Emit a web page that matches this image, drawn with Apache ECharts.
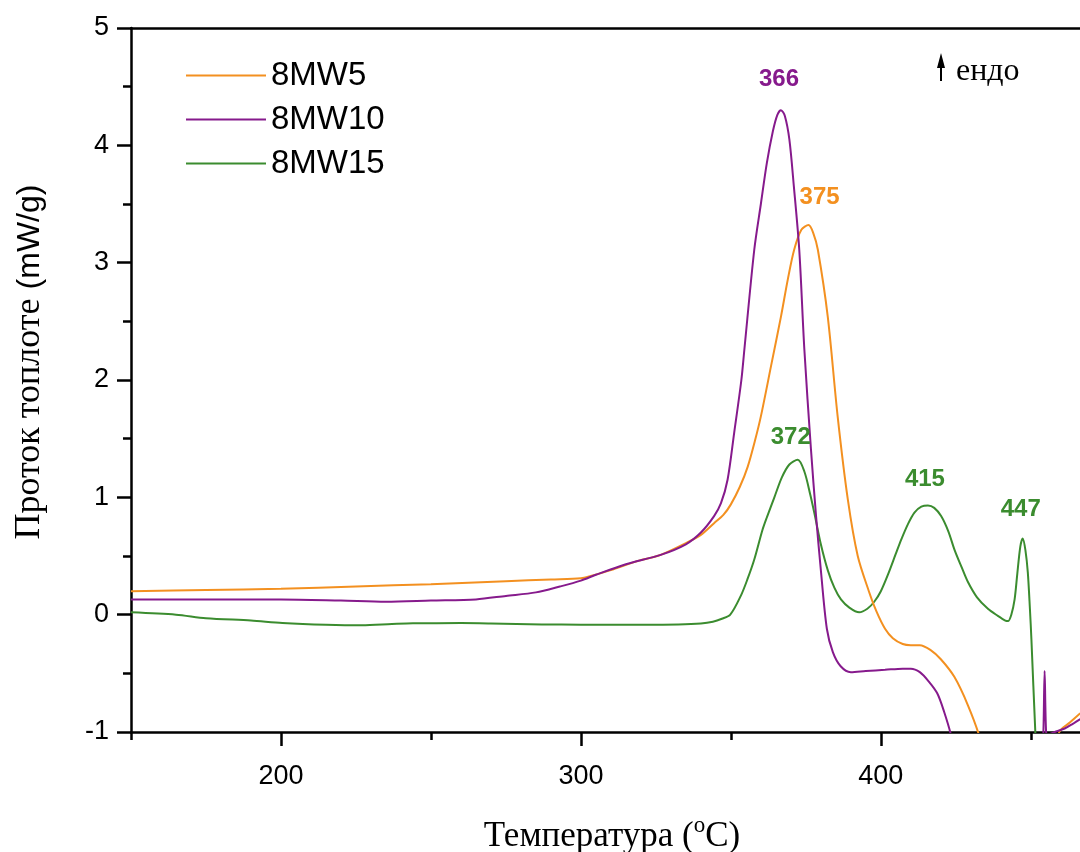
<!DOCTYPE html>
<html>
<head>
<meta charset="utf-8">
<script src="https://cdn.jsdelivr.net/npm/echarts@6/dist/echarts.min.js"></script>
<style>html,body{margin:0;padding:0;background:#fff;}#c{width:1080px;height:852px;}</style>
</head>
<body>
<div id="c"></div>
<script>
// ---- data ----
const seriesNames = ['8MW5', '8MW10', '8MW15'];

const t5 = [150,175,200,225,250,275,290,300,303.3,310,318,326.6,335,340,344.4,347.5,350,353,355.6,358,360,363.4,366.7,369,371.1,373.5,375.9,377.5,379,382.3,385.6,389,392.3,396,398.5,401.4,404,407.3,410,413,416.5,420,424.5,429,433,436,456,459.5,463,466.5];
const v5 = [0.20,0.21,0.22,0.24,0.26,0.285,0.30,0.31,0.33,0.38,0.45,0.51,0.61,0.68,0.78,0.85,0.94,1.09,1.26,1.48,1.69,2.12,2.54,2.86,3.11,3.28,3.32,3.25,3.11,2.54,1.69,0.98,0.50,0.20,0.03,-0.12,-0.20,-0.25,-0.26,-0.26,-0.30,-0.38,-0.53,-0.77,-1.05,-1.4,-1.4,-1.0,-0.92,-0.84];

const t10 = [150,175,200,220,235,250,265,275,285,293,300,305,315,326.6,335,340,344.4,346.7,348.9,351.1,353.5,354.5,357.8,360,362,364,365.5,366.7,368,369.5,371,372.8,374.5,376.7,378.4,380,382,384,386.6,390,395,401.4,407.3,410,413,416,418.8,421,423.4,425,453.6,454.2,454.6,455.1,455.7,458,461.3,464,466.5];
const v10 = [0.13,0.13,0.13,0.12,0.11,0.12,0.13,0.16,0.19,0.24,0.29,0.34,0.43,0.51,0.60,0.70,0.84,0.95,1.15,1.55,2.0,2.26,3.11,3.5,3.85,4.12,4.26,4.30,4.25,4.05,3.65,3.11,2.26,1.41,0.84,0.38,-0.12,-0.32,-0.44,-0.49,-0.48,-0.47,-0.46,-0.46,-0.49,-0.57,-0.67,-0.82,-1.03,-1.3,-1.3,-1.0,-0.48,-1.0,-1.02,-1.0,-0.97,-0.93,-0.89];

const t15 = [150,165,175,190,200.5,215,227,237,244,260,270,287,300,320,332.5,340,344,347,349.8,353.3,355.5,357.8,360.5,362,364.5,367,369.5,372.3,374.5,376.5,377.8,380,382.3,384.5,386.7,389.5,392.8,395.5,397.8,400,402.5,405,406.8,409,411.2,413.5,415.7,417.8,420.1,422.5,424.6,427,429,432,435.7,439,441.5,442.4,443.5,444.6,445.5,446.5,447.3,448.2,449,449.7,450.2,451.5,452.5];
const v15 = [0.02,0.0,-0.03,-0.05,-0.07,-0.085,-0.09,-0.08,-0.074,-0.072,-0.075,-0.083,-0.085,-0.085,-0.083,-0.075,-0.06,-0.035,0.0,0.16,0.30,0.47,0.72,0.83,1.0,1.17,1.28,1.32,1.22,1.02,0.87,0.60,0.38,0.23,0.13,0.06,0.02,0.05,0.11,0.20,0.35,0.52,0.64,0.77,0.87,0.92,0.93,0.91,0.84,0.71,0.55,0.40,0.28,0.15,0.05,-0.01,-0.05,-0.055,0.0,0.13,0.35,0.58,0.65,0.55,0.36,0.05,-0.21,-1.0,-1.5];

// peak annotations: [x, y, label]
const peaks5 = [[375.9, 3.32, '375']];
const peaks10 = [[366.7, 4.30, '366']];
const peaks15 = [[372.3, 1.32, '372'], [415.7, 0.93, '415'], [447.3, 0.65, '447']];

const xMajorTicks = [200, 300, 400];
const xMinorTicks = [150, 250, 350, 450];

// ---- styles ----
const colors = ['#F39020', '#861A8C', '#3B8C2F'];
const peakOffsets = {'375': [11, -28], '366': [-2, -31], '372': [-7, -22], '415': [-3, -26], '447': [-2, -29]};

function zip(t, v) { return t.map((x, i) => [x, v[i]]); }
function mp(peaks, color) {
  return {
    symbol: 'circle', symbolSize: 0, silent: true,
    label: {
      show: true, position: 'inside', color: color,
      fontFamily: 'Liberation Sans', fontWeight: 'bold', fontSize: 24,
      formatter: p => p.data.text
    },
    data: peaks.map(p => ({coord: [p[0], p[1]], text: p[2], label: {offset: peakOffsets[p[2]]}}))
  };
}

const XMIN = 150, XMAX = 466.4;
const chart = echarts.init(document.getElementById('c'), null, {renderer: 'canvas'});
const axisLine = {show: true, onZero: false, lineStyle: {color: '#000', width: 2.5}};
chart.setOption({
  animation: false,
  backgroundColor: '#fff',
  color: colors,
  grid: {left: 131, top: 28, right: 0, bottom: 120, containLabel: false},
  legend: {
    orient: 'vertical', left: 181, top: 54,
    icon: 'rect', itemWidth: 80, itemHeight: 2, itemGap: 11,
    textStyle: {fontFamily: 'Liberation Sans', fontSize: 33, color: '#000', lineHeight: 33, padding: [0, 0, 0, 0]},
    data: seriesNames
  },
  xAxis: [
    {
      type: 'value', min: XMIN, max: XMAX, position: 'bottom',
      axisLine: axisLine,
      axisTick: {show: true, customValues: xMajorTicks, length: 14, lineStyle: {width: 2.5, color: '#000'}},
      axisLabel: {show: true, customValues: xMajorTicks, fontFamily: 'Liberation Sans', fontSize: 27, color: '#000', margin: 31},
      splitLine: {show: false}
    },
    {
      type: 'value', min: XMIN, max: XMAX, position: 'bottom',
      axisLine: {show: false, onZero: false},
      axisTick: {show: true, customValues: xMinorTicks, length: 8, lineStyle: {width: 2.5, color: '#000'}},
      axisLabel: {show: false},
      splitLine: {show: false}
    },
    {
      type: 'value', min: XMIN, max: XMAX, position: 'top',
      axisLine: axisLine, axisTick: {show: false}, axisLabel: {show: false}, splitLine: {show: false}
    }
  ],
  yAxis: {
    type: 'value', min: -1, max: 5, interval: 1,
    axisLine: axisLine,
    axisTick: {show: true, length: 14, lineStyle: {width: 2.5, color: '#000'}},
    minorTick: {show: true, splitNumber: 2, length: 8, lineStyle: {width: 2.5, color: '#000'}},
    axisLabel: {fontFamily: 'Liberation Sans', fontSize: 27, color: '#000', margin: 22},
    splitLine: {show: false}
  },
  series: [
    {name: seriesNames[0], type: 'line', data: zip(t5, v5), showSymbol: false, smooth: 0.3,
     lineStyle: {width: 2, color: colors[0]}, markPoint: mp(peaks5, colors[0]), z: 3},
    {name: seriesNames[1], type: 'line', data: zip(t10, v10), showSymbol: false, smooth: 0.3,
     lineStyle: {width: 2, color: colors[1]}, markPoint: mp(peaks10, colors[1]), z: 4},
    {name: seriesNames[2], type: 'line', data: zip(t15, v15), showSymbol: false, smooth: 0.3,
     lineStyle: {width: 2, color: colors[2]}, markPoint: mp(peaks15, colors[2]), z: 2}
  ],
  graphic: [
    {
      type: 'text', x: 30, y: 362, rotation: Math.PI / 2,
      style: {
        text: '{a|Проток топлоте }{b|(mW/g)}',
        align: 'center', verticalAlign: 'middle',
        rich: {
          a: {fontFamily: 'Liberation Serif', fontSize: 36, fill: '#000'},
          b: {fontFamily: 'Liberation Sans', fontSize: 32, fill: '#000'}
        }
      }
    },
    {
      type: 'text', x: 612, y: 834,
      style: {
        text: '{a|Температура (}{s|o}{a|C)}',
        align: 'center', verticalAlign: 'middle',
        rich: {
          a: {fontFamily: 'Liberation Serif', fontSize: 35, fill: '#000', lineHeight: 40, verticalAlign: 'bottom'},
          s: {fontFamily: 'Liberation Serif', fontSize: 23, fill: '#000', lineHeight: 40, verticalAlign: 'top'}
        }
      }
    },
    {
      type: 'text', x: 956, y: 72,
      style: {text: 'ендо', fontFamily: 'Liberation Serif', fontSize: 32, fill: '#000', align: 'left', verticalAlign: 'middle'}
    },
    {type: 'line', shape: {x1: 941, y1: 81, x2: 941, y2: 62}, style: {stroke: '#000', lineWidth: 2}},
    {type: 'polygon', shape: {points: [[941, 53], [937, 68], [945, 68]]}, style: {fill: '#000'}}
  ]
});
</script>
</body>
</html>
